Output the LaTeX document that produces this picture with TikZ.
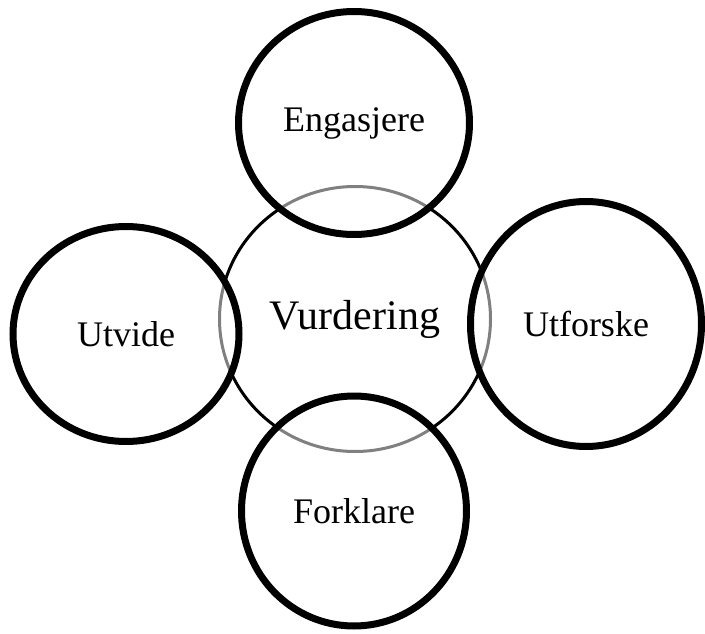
\documentclass[tikz,border=0pt]{standalone}
\usepackage{fontspec}
\setmainfont{Liberation Serif}
\usetikzlibrary{shapes.geometric}

\begin{document}
\begin{tikzpicture}[
    x=1pt, y=-1pt,
    core/.style={ellipse, draw=black, line width=3pt, inner sep=0pt, font=\fontsize{42}{48}\selectfont},
    phase/.style={ellipse, draw=black, line width=7pt, fill=white, fill opacity=0.5, text opacity=1, inner sep=0pt, font=\fontsize{36}{42}\selectfont}
]
\useasboundingbox (0,0) rectangle (705,634);

\node[core, minimum width=271pt, minimum height=265pt] (vurdering) at (355,319) {Vurdering};

\node[phase, minimum width=231pt, minimum height=223pt] (engasjere) at (354,123) {Engasjere};
\node[phase, minimum width=231pt, minimum height=245pt] (utforske) at (586,324) {Utforske};
\node[phase, minimum width=225pt, minimum height=230pt] (forklare) at (354,511) {Forklare};
\node[phase, minimum width=226pt, minimum height=215pt] (utvide) at (126,334) {Utvide};

\end{tikzpicture}
\end{document}
